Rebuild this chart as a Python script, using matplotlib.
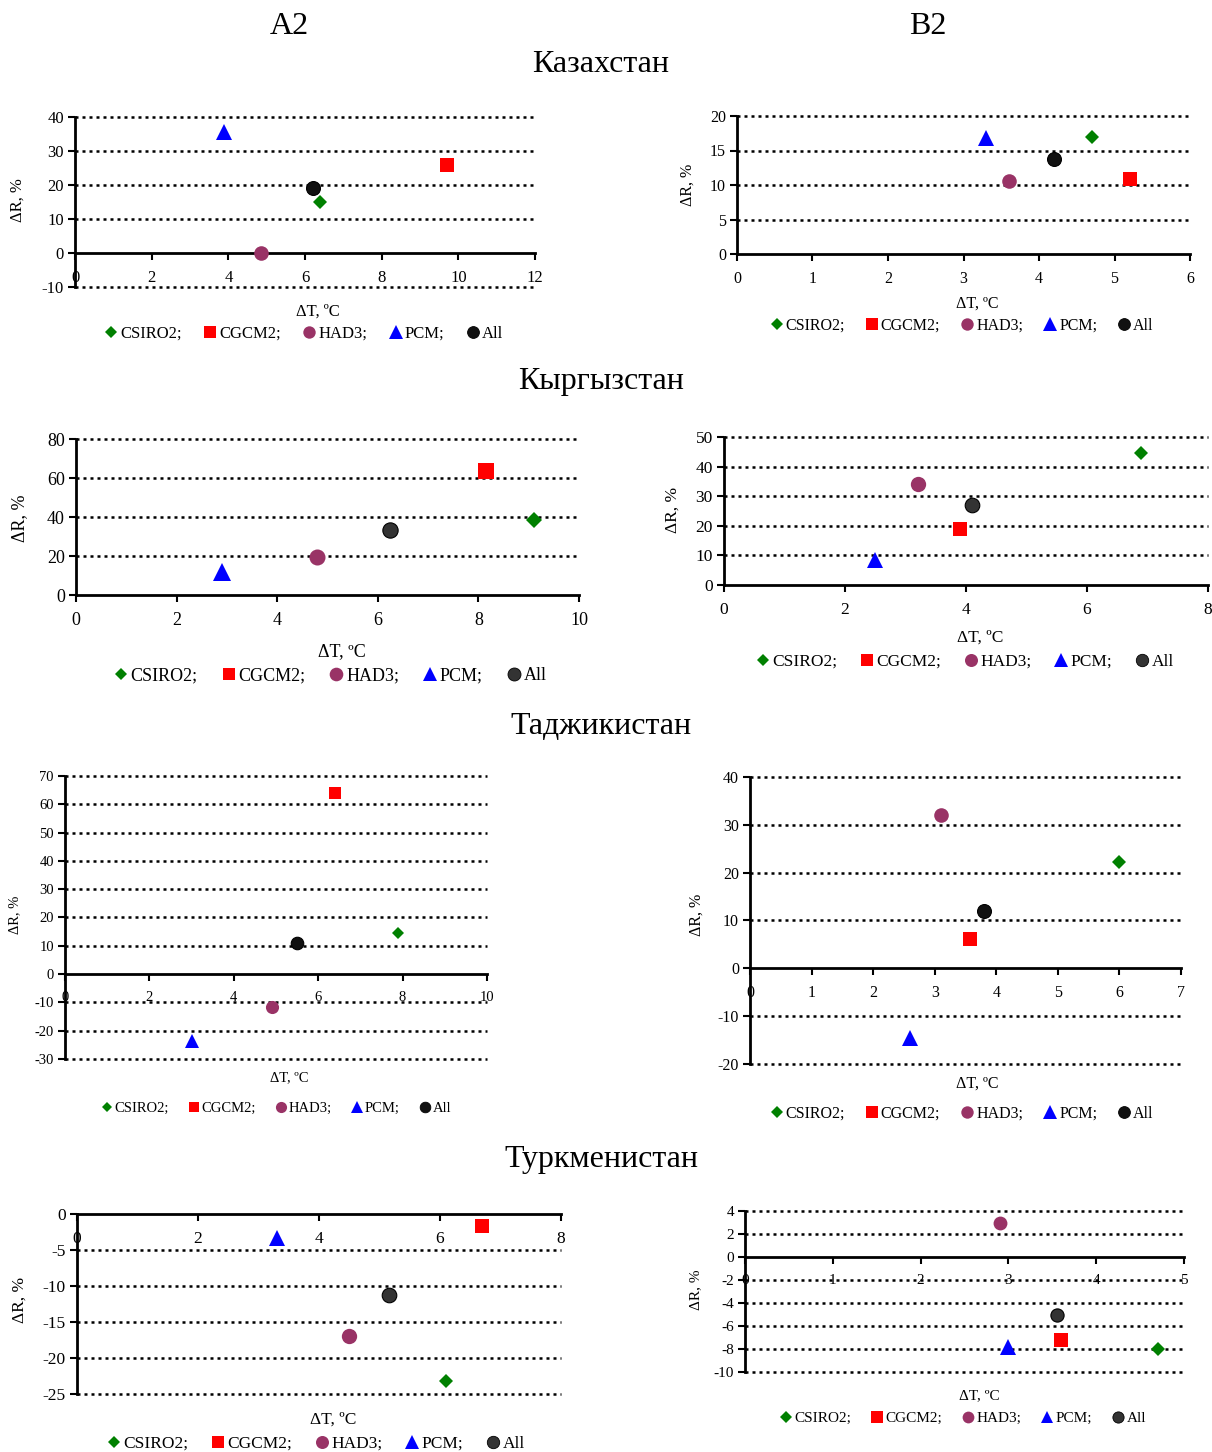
import matplotlib
matplotlib.use("Agg")
import matplotlib.pyplot as plt
from matplotlib.lines import Line2D

plt.rcParams['font.family'] = ['Liberation Serif', 'DejaVu Serif']
plt.rcParams['axes.unicode_minus'] = False

W, H = 1212, 1452

# ---- data (dT, dR) ----
models = ["CSIRO2;", "CGCM2;", "HAD3;", "PCM;", "All"]

kaz_a2_dt = [6.4, 9.7, 4.85, 3.9, 6.2]
kaz_a2_dr = [15, 26, 0, 35.5, 19]
kaz_b2_dt = [4.7, 5.2, 3.6, 3.3, 4.2]
kaz_b2_dr = [17, 10.8, 10.6, 16.8, 13.8]

kyr_a2_dt = [9.1, 8.15, 4.8, 2.9, 6.25]
kyr_a2_dr = [38.5, 63.5, 19.5, 12, 33.5]
kyr_b2_dt = [6.9, 3.9, 3.2, 2.5, 4.1]
kyr_b2_dr = [44.5, 19, 34, 8.5, 27]

taj_a2_dt = [7.9, 6.4, 4.9, 3.0, 5.5]
taj_a2_dr = [14.5, 64, -11.5, -23.5, 11]
taj_b2_dt = [6.0, 3.57, 3.1, 2.6, 3.8]
taj_b2_dr = [22.3, 6.2, 32, -14.5, 12]

tur_a2_dt = [6.1, 6.7, 4.5, 3.3, 5.15]
tur_a2_dr = [-23.2, -1.7, -17, -3.3, -11.3]
tur_b2_dt = [4.7, 3.6, 2.9, 3.0, 3.55]
tur_b2_dr = [-8, -7.2, 3, -7.8, -5]

# marker styles
mk = ['D', 's', 'o', '^', 'o']
mk_size = [7, 10, 10.5, 11.5, 10]
colors = ['#008000', '#ff0000', '#993366', '#0000ff', '#111111']


def panel(dt, dr, box, xmax, xstep, ymin, ymax, ystep, xlab_pos, ylab_pos,
          leg_pos, fs=11, ms=1.0, all_color='#111111', colsp=1.3):
    x0, x1, ytop, ybot = box
    ax = fig.add_axes([x0 / W, 1 - ybot / H, (x1 - x0) / W, (ybot - ytop) / H])
    ax.set_xlim(0, xmax)
    ax.set_ylim(ymin, ymax)
    xt = list(range(0, xmax + 1, xstep))
    yt = list(range(ymin, ymax + 1, ystep))
    ax.set_xticks(xt)
    ax.set_yticks(yt)
    ax.patch.set_visible(False)
    ax.spines['top'].set_visible(False)
    ax.spines['right'].set_visible(False)
    ax.spines['bottom'].set_position(('data', 0))
    ax.spines['left'].set_linewidth(2)
    ax.spines['bottom'].set_linewidth(2)
    ax.tick_params(axis='both', direction='out', length=5, width=1.5, labelsize=fs)
    ax.tick_params(axis='x', pad=7)
    ax.tick_params(axis='y', pad=3)
    for y in yt:
        if y != 0:
            ax.axhline(y, color='black', lw=1.8, ls=(0, (1.2, 1.6)), zorder=1, clip_on=False)
    cols = colors[:4] + [all_color]
    for i in range(len(models)):
        ax.plot(dt[i], dr[i], ls='none', marker=mk[i], ms=mk_size[i] * ms,
                color=cols[i], mec='black' if i == 4 else cols[i], mew=0.8 if i == 4 else 0,
                zorder=5, clip_on=False)
    fig.text(xlab_pos[0] / W, 1 - xlab_pos[1] / H, "ΔT, ºC", ha='center', va='center', fontsize=fs)
    fig.text(ylab_pos[0] / W, 1 - ylab_pos[1] / H, "ΔR, %", ha='center', va='center',
             rotation=90, fontsize=fs)
    handles = [Line2D([], [], ls='none', marker=mk[i], ms=mk_size[i] * 0.85 * ms,
                      color=cols[i], mec='black' if i == 4 else cols[i], mew=0.6 if i == 4 else 0)
               for i in range(len(models))]
    fig.legend(handles, models, loc='center', ncol=5, frameon=False,
               bbox_to_anchor=(leg_pos[0] / W, 1 - leg_pos[1] / H),
               fontsize=fs, handlelength=0.8, handletextpad=0.15, columnspacing=colsp,
               borderpad=0, borderaxespad=0)
    return ax


fig = plt.figure(figsize=(W / 100, H / 100), dpi=100)

# headers
fig.text(289 / W, 1 - 27 / H, "A2", ha='center', va='center', fontsize=23)
fig.text(928 / W, 1 - 27 / H, "B2", ha='center', va='center', fontsize=23)
fig.text(601 / W, 1 - 64 / H, "Казахстан", ha='center', va='center', fontsize=23)
fig.text(601 / W, 1 - 382 / H, "Кыргызстан", ha='center', va='center', fontsize=23)
fig.text(601 / W, 1 - 727 / H, "Таджикистан", ha='center', va='center', fontsize=23)
fig.text(601 / W, 1 - 1160 / H, "Туркменистан", ha='center', va='center', fontsize=23)

# Kazakhstan
panel(kaz_a2_dt, kaz_a2_dr, (75, 535, 117, 287), 12, 2, -10, 40, 10,
      (318, 312), (18, 200), (304, 334), fs=12)
panel(kaz_b2_dt, kaz_b2_dr, (737, 1190, 116, 254), 6, 1, 0, 20, 5,
      (977, 304), (688, 185), (962, 326), fs=11.5)

# Kyrgyzstan
panel(kyr_a2_dt, kyr_a2_dr, (76, 579, 439, 595), 10, 2, 0, 80, 20,
      (342, 652), (20, 518), (330, 676), fs=13, ms=1.1, all_color='#333333')
panel(kyr_b2_dt, kyr_b2_dr, (724, 1208, 437, 585), 8, 2, 0, 50, 10,
      (980, 638), (673, 510), (965, 662), fs=12.5, ms=1.05, all_color='#333333')

# Tajikistan
panel(taj_a2_dt, taj_a2_dr, (65, 487, 776, 1059), 10, 2, -30, 70, 10,
      (289, 1078), (15, 915), (276, 1108), fs=10.5, ms=0.9)
panel(taj_b2_dt, taj_b2_dr, (750, 1181, 777, 1064), 7, 1, -20, 40, 10,
      (977, 1084), (697, 915), (962, 1114), fs=11.5)

# Turkmenistan
panel(tur_a2_dt, tur_a2_dr, (77, 561, 1214, 1394), 8, 2, -25, 0, 5,
      (333, 1420), (20, 1300), (316, 1444), fs=12.5, ms=1.05, all_color='#333333')
panel(tur_b2_dt, tur_b2_dr, (745, 1184, 1211, 1372), 5, 1, -10, 4, 2,
      (979, 1396), (696, 1290), (963, 1418), fs=11, ms=0.95, all_color='#333333')

fig.savefig("out.png", dpi=100)
